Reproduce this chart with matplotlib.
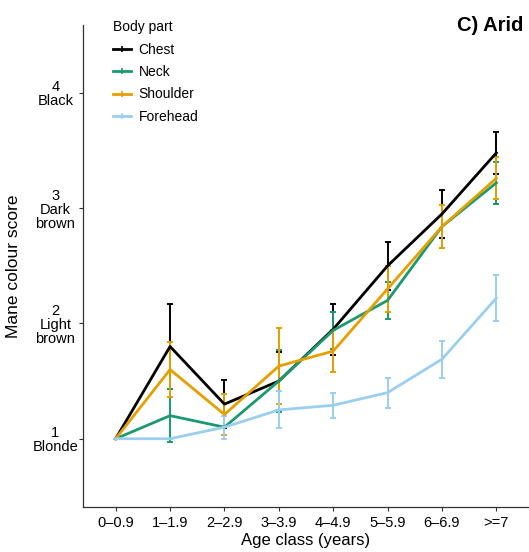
import numpy as np
import matplotlib.pyplot as plt
from matplotlib.lines import Line2D

plt.rcParams['font.family'] = ['Liberation Sans', 'DejaVu Sans']

# Age classes and y tick labels
age_classes = ['0\u20130.9', '1\u20131.9', '2\u20132.9', '3\u20133.9', '4\u20134.9', '5\u20135.9', '6\u20136.9', '>=7']
score_ticks = [1, 2, 3, 4]
score_labels = ['1\nBlonde', '2\nLight\nbrown', '3\nDark\nbrown', '4\nBlack']

# Mean mane colour score per body part, with error (half-width)
chest = [1.00, 1.80, 1.30, 1.50, 1.95, 2.50, 2.95, 3.48]
chest_err = [0.00, 0.37, 0.21, 0.25, 0.22, 0.21, 0.21, 0.18]
neck = [1.00, 1.20, 1.10, 1.50, 1.94, 2.20, 2.84, 3.22]
neck_err = [0.00, 0.23, 0.00, 0.27, 0.16, 0.16, 0.19, 0.18]
shoulder = [1.00, 1.60, 1.21, 1.63, 1.76, 2.30, 2.84, 3.26]
shoulder_err = [0.00, 0.24, 0.18, 0.33, 0.18, 0.20, 0.19, 0.18]
forehead = [1.00, 1.00, 1.10, 1.25, 1.29, 1.40, 1.69, 2.22]
forehead_err = [0.00, 0.00, 0.10, 0.16, 0.11, 0.13, 0.16, 0.20]

series = [
    ('Chest', chest, chest_err, '#000000'),
    ('Neck', neck, neck_err, '#1a9a6e'),
    ('Shoulder', shoulder, shoulder_err, '#e69f00'),
    ('Forehead', forehead, forehead_err, '#9acff0'),
]

fig = plt.figure(figsize=(5.29, 5.52), dpi=100)
ax = fig.add_axes([0.157, 0.082, 0.843, 0.873])

x = np.arange(1, len(age_classes) + 1)
handles = []
for name, vals, err, col in series:
    ax.errorbar(x, vals, yerr=err, color=col, lw=2.0, elinewidth=1.4,
                capsize=2.5, capthick=1.4)
    handles.append(Line2D([0], [0], color=col, lw=2.0, marker='|',
                          markersize=4, markeredgewidth=1.2, label=name))

ax.set_xlim(0.4, 8.6)
ax.set_ylim(0.41, 4.59)
ax.set_xticks(x)
ax.set_xticklabels(age_classes, fontsize=10.5)
ax.set_yticks(score_ticks)
ax.set_yticklabels(score_labels, fontsize=10.5, ha='center', linespacing=1.0)
ax.tick_params(axis='y', pad=17)
ax.tick_params(length=3, color='#333333', width=0.8)
ax.set_xlabel('Age class (years)', fontsize=12, labelpad=2)
ax.set_ylabel('Mane colour score', fontsize=12.5, labelpad=8)

for s in ['top', 'right']:
    ax.spines[s].set_visible(False)
for s in ['left', 'bottom']:
    ax.spines[s].set_color('#333333')
    ax.spines[s].set_linewidth(0.9)

leg = ax.legend(handles=handles, loc='upper left', bbox_to_anchor=(0.04, 1.035),
                frameon=False, title='Body part', fontsize=10, title_fontsize=10,
                handlelength=1.3, handletextpad=0.5, labelspacing=0.6,
                alignment='left')

ax.text(0.988, 1.018, 'C) Arid', transform=ax.transAxes, ha='right', va='top',
        fontsize=14.5, fontweight='bold')

fig.savefig('out.png', dpi=100)
